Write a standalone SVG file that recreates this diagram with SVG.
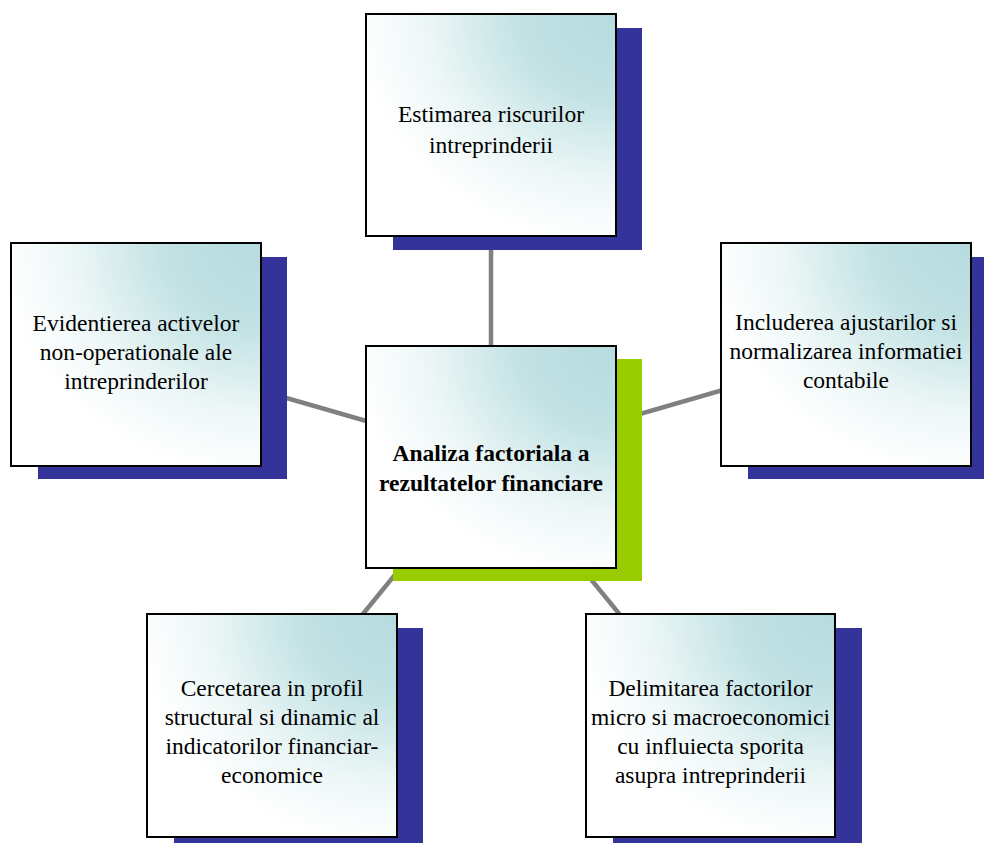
<svg xmlns="http://www.w3.org/2000/svg" width="984" height="843" viewBox="0 0 984 843">
<style>
.box{stroke:#000;stroke-width:2;fill:url(#g)}
.sh{fill:#333399}
.shg{fill:#99cc00}
.t{font-family:'Liberation Serif','DejaVu Serif',serif;font-size:23.5px;fill:#000;text-anchor:middle}
.b{font-weight:bold}
.c{stroke:#808080;stroke-width:4.5;fill:none}
</style>
<defs>
<radialGradient id="g" cx="1" cy="0" r="1.1" gradientUnits="objectBoundingBox">
<stop offset="0" stop-color="#b6dbde"/>
<stop offset="0.35" stop-color="#c2e2e4"/>
<stop offset="0.7" stop-color="#eef7f7"/>
<stop offset="0.95" stop-color="#ffffff"/>
</radialGradient>
</defs>
<rect width="984" height="843" fill="#fff"/>
<g id="connectors">
<line class="c" x1="491" y1="457" x2="491" y2="125"/>
<line class="c" x1="491" y1="457" x2="136" y2="354.5"/>
<line class="c" x1="491" y1="457" x2="846" y2="354.5"/>
<line class="c" x1="491" y1="457" x2="272" y2="725.5"/>
<line class="c" x1="491" y1="457" x2="710.5" y2="725.5"/>
</g>
<g id="top">
<rect class="sh" x="393" y="28" width="249" height="222"/>
<rect class="box" x="366" y="14" width="250" height="222"/>
<text class="t" x="491" y="122">Estimarea riscurilor</text>
<text class="t" x="491" y="152.5">intreprinderii</text>
</g>
<g id="left">
<rect class="sh" x="38" y="257" width="249" height="222"/>
<rect class="box" x="11" y="243" width="250" height="223"/>
<text class="t" x="136" y="331">Evidentierea activelor</text>
<text class="t" x="136" y="360">non-operationale ale</text>
<text class="t" x="136" y="389">intreprinderilor</text>
</g>
<g id="right">
<rect class="sh" x="748" y="257" width="249" height="222"/>
<rect class="box" x="721" y="243" width="250" height="223"/>
<text class="t" x="846" y="330">Includerea ajustarilor si</text>
<text class="t" x="846" y="359">normalizarea informatiei</text>
<text class="t" x="846" y="388">contabile</text>
</g>
<g id="bottom-left">
<rect class="sh" x="174" y="628" width="249" height="222"/>
<rect class="box" x="147" y="614" width="250" height="223"/>
<text class="t" x="272" y="696">Cercetarea in profil</text>
<text class="t" x="272" y="725">structural si dinamic al</text>
<text class="t" x="272" y="754">indicatorilor financiar-</text>
<text class="t" x="272" y="783">economice</text>
</g>
<g id="bottom-right">
<rect class="sh" x="613" y="628" width="249" height="222"/>
<rect class="box" x="586" y="614" width="249" height="223"/>
<text class="t" x="710.5" y="696">Delimitarea factorilor</text>
<text class="t" x="710.5" y="725">micro si macroeconomici</text>
<text class="t" x="710.5" y="754">cu influiecta sporita</text>
<text class="t" x="710.5" y="783">asupra intreprinderii</text>
</g>
<g id="center">
<rect class="shg" x="393" y="359" width="249" height="222"/>
<rect class="box" x="366" y="346" width="250" height="222"/>
<text class="t b" x="491" y="461">Analiza factoriala a</text>
<text class="t b" x="491" y="491">rezultatelor financiare</text>
</g>
</svg>
